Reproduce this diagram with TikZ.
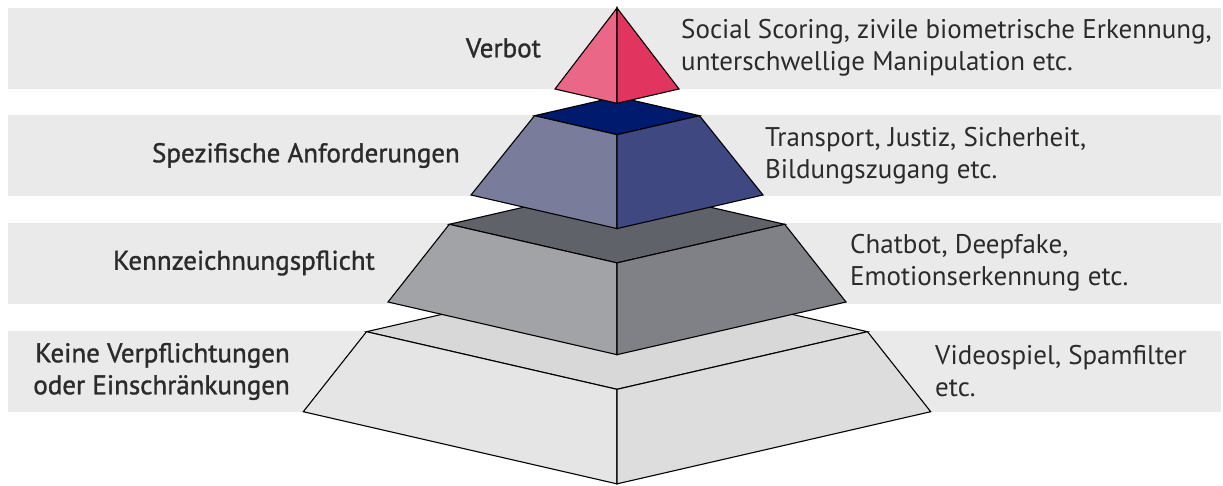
\documentclass[tikz,border=0pt]{standalone}
\usepackage{fontspec}
\setmainfont{PT Sans}
\newfontfamily\levelfont{PT Sans}[FakeBold=1.2]
\definecolor{bandgray}{HTML}{EAEAEA}
\definecolor{txtdark}{HTML}{2B2B2B}
\definecolor{redleft}{HTML}{EA6787}
\definecolor{redright}{HTML}{E1345E}
\definecolor{bluetop}{HTML}{001A6E}
\definecolor{blueleft}{HTML}{797C9B}
\definecolor{blueright}{HTML}{3F4880}
\definecolor{graytop}{HTML}{60626A}
\definecolor{grayleft}{HTML}{A2A3A7}
\definecolor{grayright}{HTML}{808186}
\definecolor{lighttop}{HTML}{D8D8D8}
\definecolor{lightleft}{HTML}{E5E5E5}
\definecolor{lightright}{HTML}{DDDDDD}

\tikzset{
  pyrface/.style={draw=black, line width=1.1pt},
  levellabel/.style={text=txtdark, inner sep=0pt, anchor=east, align=right,
    font=\levelfont\fontsize{27}{32}\selectfont},
  examples/.style={text=txtdark, inner sep=0pt, anchor=west, align=left,
    font=\fontsize{27}{32}\selectfont}
}

\begin{document}
\begin{tikzpicture}[x=1pt, y=-1pt]
  \useasboundingbox (0,0) rectangle (1223,485);
  % grey rows behind the levels
  \foreach \ya/\yb in {8/88.5, 115/196, 223/303.5, 331/412}
    \fill[bandgray] (8,\ya) rectangle (1221,\yb);
  % stacked frusta, lowest first
  \foreach \ya/\yb/\wa/\wb/\ctop/\cleft/\cright in {
      331.7/411.7/250.5/313.7/lighttop/lightleft/lightright,
      224.3/302/167.7/229/graytop/grayleft/grayright,
      115.7/195/82.5/146/bluetop/blueleft/blueright} {
    \pgfmathsetmacro{\ytf}{\ya+0.23*\wa}
    \pgfmathsetmacro{\ytb}{\ya-0.23*\wa}
    \pgfmathsetmacro{\ybf}{\yb+0.23*\wb}
    \filldraw[pyrface, fill=\ctop] (617-\wa,\ya) -- (617,\ytb) -- (617+\wa,\ya) -- (617,\ytf) -- cycle;
    \filldraw[pyrface, fill=\cleft] (617-\wa,\ya) -- (617,\ytf) -- (617,\ybf) -- (617-\wb,\yb) -- cycle;
    \filldraw[pyrface, fill=\cright] (617+\wa,\ya) -- (617,\ytf) -- (617,\ybf) -- (617+\wb,\yb) -- cycle;
  }
  % tip
  \coordinate (apex) at (617,8);
  \coordinate (tipfront) at (617,103.3);
  \filldraw[pyrface, fill=redleft] (apex) -- (tipfront) -- (555,89) -- cycle;
  \filldraw[pyrface, fill=redright] (apex) -- (tipfront) -- (679,89) -- cycle;
  % level names
  \node[levellabel] (verbot) at (541,48) {Verbot};
  \node[levellabel] (spezifisch) at (460,155.5) {Spezifische Anforderungen};
  \node[levellabel] (kennz) at (375,263) {Kennzeichnungspflicht};
  \node[levellabel] (keine) at (290,371.5) {Keine Verpflichtungen\\oder Einschränkungen};
  % examples per level
  \node[examples] (exverbot) at (681,48) {Social Scoring, zivile biometrische Erkennung,\\unterschwellige Manipulation etc.};
  \node[examples] (exspez) at (765,155.5) {Transport, Justiz, Sicherheit,\\Bildungszugang etc.};
  \node[examples] (exkennz) at (850,263) {Chatbot, Deepfake,\\Emotionserkennung etc.};
  \node[examples] (exkeine) at (935,371.5) {Videospiel, Spamfilter\\etc.};
\end{tikzpicture}
\end{document}
